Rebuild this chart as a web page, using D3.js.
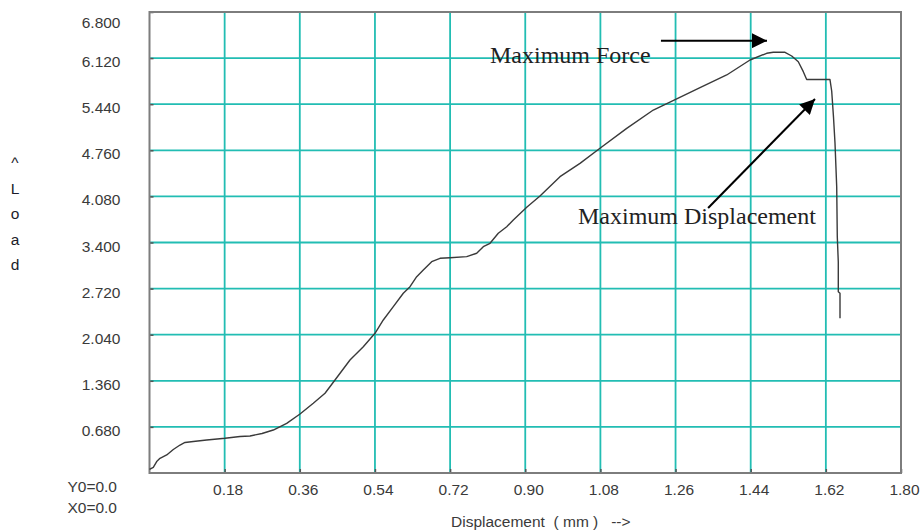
<!DOCTYPE html>
<html>
<head>
<meta charset="utf-8">
<script src="https://cdn.jsdelivr.net/npm/d3@7"></script>
<style>
  html, body { margin: 0; padding: 0; background: #ffffff; }
  svg { display: block; }
  .tick-label { font-family: "Liberation Sans", Arial, sans-serif; font-size: 15.5px; fill: #3a3a3a; }
  .note { font-family: "Liberation Serif", "Times New Roman", serif; font-size: 24px; fill: #222; }
</style>
</head>
<body>
<svg id="chart" width="923" height="532"></svg>
<script>
// Load–displacement record of the tensile test
const displacement = [
  0.000, 0.0091, 0.0172, 0.0251, 0.0412, 0.0570, 0.0731, 0.0850, 0.1049, 0.1370,
  0.1808, 0.2168, 0.2407, 0.2695, 0.2965, 0.3286, 0.3605, 0.3923, 0.4204, 0.4443,
  0.4802, 0.5121, 0.5401, 0.5600, 0.5840, 0.6079, 0.6240, 0.6400, 0.6558, 0.6759,
  0.6958, 0.7198, 0.7598, 0.7837, 0.7995, 0.8156, 0.8354, 0.8556, 0.8714, 0.9042,
  0.9353, 0.9832, 1.0311, 1.0790, 1.1430, 1.2067, 1.2627, 1.3186, 1.3825, 1.4383,
  1.4783, 1.4941, 1.5222, 1.5382, 1.5540, 1.5660, 1.5741, 1.6299, 1.6340, 1.6383,
  1.6419, 1.6460, 1.6474, 1.6498, 1.6498, 1.6539, 1.6539
];
const load = [
  0.052, 0.084, 0.169, 0.217, 0.266, 0.347, 0.413, 0.450, 0.465, 0.487,
  0.512, 0.538, 0.546, 0.583, 0.634, 0.733, 0.870, 1.028, 1.176, 1.372,
  1.667, 1.863, 2.061, 2.257, 2.453, 2.651, 2.748, 2.896, 2.994, 3.117,
  3.167, 3.176, 3.191, 3.241, 3.338, 3.388, 3.536, 3.633, 3.732, 3.924,
  4.086, 4.371, 4.568, 4.790, 5.084, 5.354, 5.520, 5.686, 5.871, 6.092,
  6.191, 6.206, 6.206, 6.151, 6.067, 5.920, 5.804, 5.804, 5.635, 5.251,
  4.868, 4.223, 3.486, 3.112, 2.674, 2.651, 2.282
];

const xTickValues = [0.18, 0.36, 0.54, 0.72, 0.90, 1.08, 1.26, 1.44, 1.62, 1.80];
const xTickLabels = ["0.18", "0.36", "0.54", "0.72", "0.90", "1.08", "1.26", "1.44", "1.62", "1.80"];
const yTickValues = [0.68, 1.36, 2.04, 2.72, 3.40, 4.08, 4.76, 5.44, 6.12, 6.80];
const yTickLabels = ["0.680", "1.360", "2.040", "2.720", "3.400", "4.080", "4.760", "5.440", "6.120", "6.800"];

const originLabels = ["Y0=0.0", "X0=0.0"];
const xTitle = "Displacement  ( mm )   -->";
const yTitle = ["^", "L", "o", "a", "d"];

// Callouts: text anchor and arrow tail/tip, in data units
const forceNote = { text: "Maximum Force", x: 0.8156, y: 6.043 };
const forceArrow = { x1: 1.225, y1: 6.377, x2: 1.479, y2: 6.377 };
const dispNote = { text: "Maximum Displacement", x: 1.0263, y: 3.673 };
const dispArrow = { x1: 1.338, y1: 3.909, x2: 1.594, y2: 5.517 };

const svg = d3.select("#chart");

const x = d3.scaleLinear().domain([0, 1.8]).range([149.5, 901]);
const y = d3.scaleLinear().domain([0, 6.8]).range([473, 12]);

const gridColor = "#22bdb3";
const frameColor = "#7d7d7d";

// grid
const grid = svg.append("g");
grid.selectAll("line.v").data(xTickValues.slice(0, -1)).join("line")
  .attr("x1", d => x(d)).attr("x2", d => x(d))
  .attr("y1", y(6.8)).attr("y2", y(0))
  .attr("stroke", gridColor).attr("stroke-width", 1.8);
grid.selectAll("line.h").data(yTickValues.slice(0, -1)).join("line")
  .attr("x1", x(0)).attr("x2", x(1.8))
  .attr("y1", d => y(d)).attr("y2", d => y(d))
  .attr("stroke", gridColor).attr("stroke-width", 1.8);

// axes: short inward ticks + labels
const xAxis = svg.append("g")
  .attr("transform", `translate(0,${y(0)})`)
  .call(d3.axisBottom(x).tickValues(xTickValues)
    .tickFormat((d, i) => xTickLabels[i]).tickSize(-4).tickPadding(11));
xAxis.select(".domain").remove();
xAxis.selectAll(".tick line").attr("stroke", "#555").attr("stroke-width", 1.5);
xAxis.selectAll(".tick text").attr("class", "tick-label").attr("dx", 3)
  .attr("font-family", null).attr("font-size", null).attr("fill", null);
xAxis.attr("font-family", null).attr("font-size", null);

const yAxis = svg.append("g")
  .attr("transform", `translate(${x(0)},0)`)
  .call(d3.axisLeft(y).tickValues(yTickValues)
    .tickFormat((d, i) => yTickLabels[i]).tickSize(-4).tickPadding(29));
yAxis.select(".domain").remove();
yAxis.selectAll(".tick line").attr("stroke", "#555").attr("stroke-width", 1.5);
yAxis.selectAll(".tick text").attr("class", "tick-label")
  .attr("dy", d => d === 6.8 ? "1.0em" : "0.55em")
  .attr("font-family", null).attr("font-size", null).attr("fill", null);
yAxis.attr("font-family", null).attr("font-size", null);

// frame
svg.append("rect")
  .attr("x", x(0)).attr("y", y(6.8))
  .attr("width", x(1.8) - x(0)).attr("height", y(0) - y(6.8))
  .attr("fill", "none").attr("stroke", frameColor).attr("stroke-width", 2);

// load curve
const pts = displacement.map((d, i) => [d, load[i]]);
svg.append("path")
  .datum(pts)
  .attr("fill", "none")
  .attr("stroke", "#3a3a3a")
  .attr("stroke-width", 1.4)
  .attr("stroke-linejoin", "round")
  .attr("d", d3.line().x(d => x(d[0])).y(d => y(d[1])));

// origin readout
svg.selectAll("text.origin").data(originLabels).join("text")
  .attr("class", "tick-label")
  .attr("x", 117).attr("y", (d, i) => 492 + i * 21)
  .attr("text-anchor", "end")
  .text(d => d);

// axis titles
svg.append("text")
  .attr("class", "tick-label")
  .attr("x", 451).attr("y", 527)
  .attr("font-size", "14.5px")
  .style("white-space", "pre")
  .text(xTitle);

svg.selectAll("text.ytitle").data(yTitle).join("text")
  .attr("class", "tick-label")
  .attr("x", 15).attr("y", (d, i) => 168 + i * 25.5)
  .attr("text-anchor", "middle")
  .style("fill", "#1c1c2a")
  .text(d => d);

// callouts
const defs = svg.append("defs");
defs.append("marker")
  .attr("id", "head").attr("viewBox", "0 0 10 10")
  .attr("refX", 10).attr("refY", 5)
  .attr("markerUnits", "userSpaceOnUse")
  .attr("markerWidth", 17).attr("markerHeight", 15)
  .attr("orient", "auto")
  .append("path").attr("d", "M0,0 L10,5 L0,10 Z").attr("fill", "#000");

[forceArrow, dispArrow].forEach(a => {
  svg.append("line")
    .attr("x1", x(a.x1)).attr("y1", y(a.y1))
    .attr("x2", x(a.x2)).attr("y2", y(a.y2))
    .attr("stroke", "#000").attr("stroke-width", 2)
    .attr("marker-end", "url(#head)");
});

[forceNote, dispNote].forEach(n => {
  svg.append("text").attr("class", "note")
    .attr("x", x(n.x)).attr("y", y(n.y))
    .text(n.text);
});
</script>
</body>
</html>
